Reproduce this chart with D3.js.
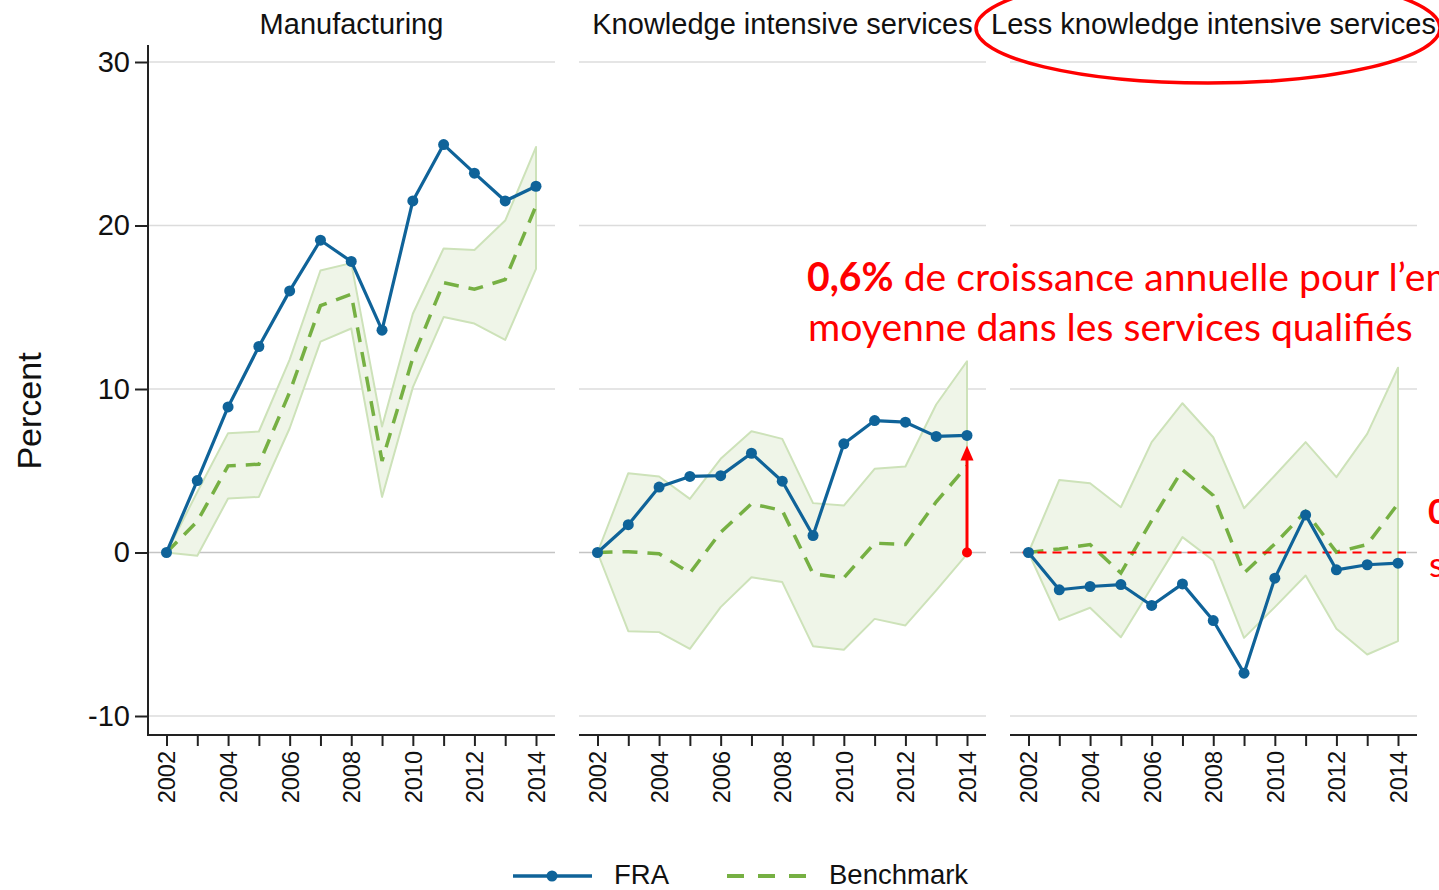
<!DOCTYPE html>
<html>
<head>
<meta charset="utf-8">
<script src="https://cdn.jsdelivr.net/npm/d3@7"></script>
<style>
  html, body { margin: 0; padding: 0; background: #fff; overflow: hidden; }
  svg { display: block; }
</style>
</head>
<body>
<svg id="chart" width="1439" height="890"></svg>
<script>
// ---------------- DATA ----------------
const years = [2002, 2003, 2004, 2005, 2006, 2007, 2008, 2009, 2010, 2011, 2012, 2013, 2014];
const yearLabels = [2002, 2004, 2006, 2008, 2010, 2012, 2014];
const yTicks = [-10, 0, 10, 20, 30];
const panelTitles = ["Manufacturing", "Knowledge intensive services", "Less knowledge intensive services"];

const mfgFRA    = [0, 4.4, 8.9, 12.6, 16.0, 19.1, 17.8, 13.6, 21.5, 24.95, 23.2, 21.5, 22.4];
const mfgBench  = [0, 1.9, 5.3, 5.4, 9.8, 15.1, 15.8, 5.6, 11.9, 16.5, 16.1, 16.7, 21.2];
const mfgUpper  = [0, 3.7, 7.3, 7.4, 11.8, 17.25, 17.7, 7.7, 14.6, 18.6, 18.5, 20.3, 24.8];
const mfgLower  = [0, -0.2, 3.3, 3.4, 7.6, 12.9, 13.7, 3.4, 10.1, 14.4, 14.0, 13.0, 17.35];

const kisFRA    = [0, 1.7, 4.0, 4.65, 4.7, 6.07, 4.36, 1.04, 6.65, 8.07, 7.97, 7.1, 7.16];
const kisBench  = [0, 0.05, -0.08, -1.26, 1.24, 2.98, 2.57, -1.3, -1.55, 0.57, 0.49, 3.1, 5.3];
const kisUpper  = [0, 4.85, 4.65, 3.28, 5.73, 7.42, 6.95, 3.02, 2.87, 5.12, 5.26, 9.05, 11.7];
const kisLower  = [0, -4.81, -4.87, -5.89, -3.34, -1.51, -1.81, -5.73, -5.95, -4.06, -4.46, -2.32, -0.1];

const lkisFRA   = [0, -2.28, -2.08, -1.96, -3.24, -1.92, -4.16, -7.38, -1.57, 2.3, -1.06, -0.75, -0.65];
const lkisBench = [0, 0.22, 0.49, -1.26, 1.96, 5.06, 3.49, -1.26, 0.53, 2.51, 0.02, 0.49, 2.98];
const lkisUpper = [0, 4.44, 4.24, 2.77, 6.75, 9.13, 7.05, 2.71, 4.71, 6.75, 4.61, 7.26, 11.3];
const lkisLower = [0, -4.12, -3.38, -5.18, -2.12, 0.94, -0.49, -5.22, -3.34, -1.41, -4.67, -6.24, -5.42];

const legendLabels = ["FRA", "Benchmark"];
const annotationBold = "0,6%";
const annotationLine1 = " de croissance annuelle pour l’emploi";
const annotationLine2 = "moyenne dans les services qualifiés";
const sideBold = "0";
const sideLine2 = "s";

// ---------------- STYLE ----------------
const FRA_COLOR = "#0f6399";
const BENCH_COLOR = "#76b043";
const BAND_FILL = "#eff5e8";
const BAND_STROKE = "#cde2b9";
const RED = "#ff0000";
const FONT = "'Liberation Sans', Arial, sans-serif";
const ANN_FONT = "Lato, 'Open Sans', sans-serif";

const svg = d3.select("#chart");

const panels = [
  { title: panelTitles[0], x0: 148, fra: mfgFRA, bench: mfgBench, up: mfgUpper, lo: mfgLower },
  { title: panelTitles[1], x0: 579, fra: kisFRA, bench: kisBench, up: kisUpper, lo: kisLower },
  { title: panelTitles[2], x0: 1010, fra: lkisFRA, bench: lkisBench, up: lkisUpper, lo: lkisLower }
];
const panelW = 407;
const axisY = 735;
const plotTop = 45;

const y = d3.scaleLinear().domain([-10, 30]).range([716, 62]);

panels.forEach((p, i) => {
  const x = d3.scaleLinear().domain([2002, 2014]).range([p.x0 + 18.5, p.x0 + 388]);
  const g = svg.append("g");

  // gridlines
  g.selectAll("line.grid").data(yTicks).join("line")
    .attr("x1", p.x0).attr("x2", p.x0 + panelW)
    .attr("y1", d => y(d)).attr("y2", d => y(d))
    .attr("stroke", d => d === 0 ? "#c4c4c4" : "#dcdcdc")
    .attr("stroke-width", 1.5);

  // title
  g.append("text")
    .attr("x", p.x0 + panelW / 2).attr("y", 34)
    .attr("text-anchor", "middle")
    .attr("font-family", FONT).attr("font-size", 29).attr("fill", "#111")
    .text(p.title);

  // band
  const rows = years.map((yr, k) => ({ yr, up: p.up[k], lo: p.lo[k], b: p.bench[k], f: p.fra[k] }));
  const area = d3.area().x(d => x(d.yr)).y0(d => y(d.lo)).y1(d => y(d.up));
  g.append("path").datum(rows)
    .attr("d", area)
    .attr("fill", BAND_FILL)
    .attr("stroke", BAND_STROKE)
    .attr("stroke-width", 2)
    .attr("stroke-linejoin", "round");

  // benchmark dashed
  const lineB = d3.line().x(d => x(d.yr)).y(d => y(d.b));
  g.append("path").datum(rows)
    .attr("d", lineB)
    .attr("fill", "none")
    .attr("stroke", BENCH_COLOR)
    .attr("stroke-width", 3.5)
    .attr("stroke-dasharray", "15,10");

  // red dashed reference line in 3rd panel
  if (i === 2) {
    g.append("line")
      .attr("x1", x(2002) - 6).attr("x2", x(2014) + 8)
      .attr("y1", y(0)).attr("y2", y(0))
      .attr("stroke", RED).attr("stroke-width", 2)
      .attr("stroke-dasharray", "9,6");
  }

  // FRA line
  const lineF = d3.line().x(d => x(d.yr)).y(d => y(d.f));
  g.append("path").datum(rows)
    .attr("d", lineF)
    .attr("fill", "none")
    .attr("stroke", FRA_COLOR)
    .attr("stroke-width", 3.2)
    .attr("stroke-linejoin", "round");
  g.selectAll("circle.fra").data(rows).join("circle")
    .attr("cx", d => x(d.yr)).attr("cy", d => y(d.f))
    .attr("r", 5.5).attr("fill", FRA_COLOR);

  // x axis
  const xAxis = d3.axisBottom(x)
    .tickValues(years)
    .tickSize(11)
    .tickSizeOuter(0)
    .tickFormat(d => yearLabels.includes(d) ? String(d) : "");
  const ax = g.append("g").attr("transform", `translate(0,${axisY})`).call(xAxis);
  ax.select(".domain").remove();
  ax.selectAll(".tick line").attr("stroke", "#222").attr("stroke-width", 2);
  ax.selectAll(".tick text")
    .attr("font-family", FONT).attr("font-size", 23.5).attr("fill", "#111")
    .attr("text-anchor", "end")
    .attr("transform", "rotate(-90)")
    .attr("x", -16).attr("y", 0).attr("dy", "0.36em");
  g.append("line")
    .attr("x1", p.x0 - (i === 0 ? 1 : 0)).attr("x2", p.x0 + panelW)
    .attr("y1", axisY).attr("y2", axisY)
    .attr("stroke", "#222").attr("stroke-width", 2);

  // y axis (only first panel)
  if (i === 0) {
    const yAxis = d3.axisLeft(y).tickValues(yTicks).tickSize(13).tickPadding(5).tickSizeOuter(0)
      .tickFormat(d => String(d));
    const ay = g.append("g").attr("transform", `translate(${p.x0},0)`).call(yAxis);
    ay.select(".domain").remove();
    ay.selectAll(".tick line").attr("stroke", "#222").attr("stroke-width", 2);
    ay.selectAll(".tick text").attr("font-family", FONT).attr("font-size", 29).attr("fill", "#111");
    g.append("line")
      .attr("x1", p.x0).attr("x2", p.x0)
      .attr("y1", plotTop).attr("y2", axisY + 1)
      .attr("stroke", "#222").attr("stroke-width", 2);
  }

  // red arrow in 2nd panel
  if (i === 1) {
    const ax0 = x(2014);
    const yFrom = y(0), yTo = y(p.fra[12]) + 10;
    g.append("line")
      .attr("x1", ax0).attr("x2", ax0)
      .attr("y1", yFrom).attr("y2", yTo + 12)
      .attr("stroke", RED).attr("stroke-width", 3);
    g.append("path")
      .attr("d", `M${ax0},${yTo} L${ax0 - 6.5},${yTo + 15} L${ax0 + 6.5},${yTo + 15} Z`)
      .attr("fill", RED);
    g.append("circle").attr("cx", ax0).attr("cy", yFrom).attr("r", 5).attr("fill", RED);
  }
});

// y axis title
svg.append("text")
  .attr("transform", "translate(41,411) rotate(-90)")
  .attr("text-anchor", "middle")
  .attr("font-family", FONT).attr("font-size", 34).attr("fill", "#111")
  .text("Percent");

// legend
const lg = svg.append("g");
lg.append("line").attr("x1", 513).attr("x2", 592).attr("y1", 876).attr("y2", 876)
  .attr("stroke", FRA_COLOR).attr("stroke-width", 3.5);
lg.append("circle").attr("cx", 552).attr("cy", 876).attr("r", 5.5).attr("fill", FRA_COLOR);
lg.append("text").attr("x", 614).attr("y", 884)
  .attr("font-family", FONT).attr("font-size", 27.5).attr("fill", "#111").text(legendLabels[0]);
lg.append("line").attr("x1", 727).attr("x2", 807).attr("y1", 876).attr("y2", 876)
  .attr("stroke", BENCH_COLOR).attr("stroke-width", 4).attr("stroke-dasharray", "17,14");
lg.append("text").attr("x", 829).attr("y", 884)
  .attr("font-family", FONT).attr("font-size", 27.5).attr("fill", "#111").text(legendLabels[1]);

// red ellipse around third title
svg.append("ellipse")
  .attr("cx", 1208).attr("cy", 28).attr("rx", 232).attr("ry", 55)
  .attr("fill", "none").attr("stroke", RED).attr("stroke-width", 3.5);

// annotation text
const ann = svg.append("g");
const t1 = ann.append("text").attr("x", 807).attr("y", 291)
  .attr("font-family", ANN_FONT).attr("fill", RED).attr("font-size", 36);
t1.append("tspan").attr("font-weight", "bold").text(annotationBold);
t1.append("tspan").text(annotationLine1);
const t2 = ann.append("text").attr("x", 808).attr("y", 341)
  .attr("font-family", ANN_FONT).attr("fill", RED).attr("font-size", 36)
  .text(annotationLine2);
const w2 = t2.node().getComputedTextLength();
const fs = 36 * 605 / w2;
t1.attr("font-size", fs);
t2.attr("font-size", fs);

// right-edge clipped annotation
ann.append("text").attr("x", 1428).attr("y", 524)
  .attr("font-family", ANN_FONT).attr("fill", RED).attr("font-size", fs * 0.9)
  .attr("font-weight", "bold").text(sideBold);
ann.append("text").attr("x", 1429).attr("y", 577)
  .attr("font-family", ANN_FONT).attr("fill", RED).attr("font-size", fs * 0.9)
  .text(sideLine2);
</script>
</body>
</html>
